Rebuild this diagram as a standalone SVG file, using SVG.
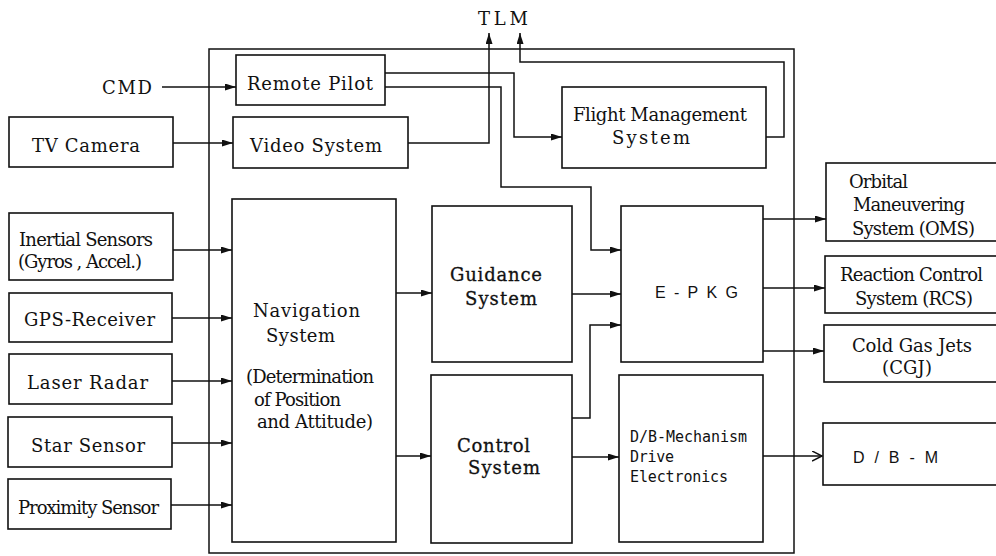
<svg xmlns="http://www.w3.org/2000/svg" width="996" height="556" viewBox="0 0 996 556">
<style>
  .box { fill: #fff; stroke: #111; stroke-width: 1.6; }
  .frame { fill: none; stroke: #111; stroke-width: 1.5; }
  .conn { fill: none; stroke: #111; stroke-width: 1.5; marker-end: url(#arrow); }
  .conn-open { fill: none; stroke: #111; stroke-width: 1.5; marker-end: url(#arrowOpen); }
  text { font-family: "DejaVu Serif", "Liberation Serif", serif; fill: #111; font-size: 18px; }
  .heavy { stroke: #111; stroke-width: 0.3; }
  .sans { font-family: "Liberation Sans", "DejaVu Sans", sans-serif; font-size: 16px; }
  .mono { font-family: "DejaVu Sans Mono", "Liberation Mono", monospace; font-size: 15px; }
</style>
<defs>
  <marker id="arrow" markerUnits="userSpaceOnUse" markerWidth="12" markerHeight="8" refX="11" refY="3.5" orient="auto">
    <path d="M0,0 L11,3.5 L0,7 z" fill="#111"/>
  </marker>
  <marker id="arrowOpen" markerUnits="userSpaceOnUse" markerWidth="12" markerHeight="12" refX="10" refY="5" orient="auto">
    <path d="M0,0 L10,5 L0,10" fill="none" stroke="#111" stroke-width="1.5"/>
  </marker>
</defs>
<rect width="996" height="556" fill="#fff"/>

<!-- outer system frame -->
<rect id="onboard-frame" class="frame" x="209" y="49" width="585" height="504"/>

<!-- free labels -->
<text id="label-tlm" x="478" y="25" textLength="50" lengthAdjust="spacing">TLM</text>
<text id="label-cmd" x="102" y="94" font-size="19" textLength="50" lengthAdjust="spacing">CMD</text>

<g id="connectors">
  <path class="conn" d="M162,87 H236"/>
  <path class="conn" d="M173,143 H233"/>
  <path class="conn" d="M408,143 H489 V33"/>
  <path class="conn" d="M385,73 H514 V137 H562"/>
  <path class="conn" d="M385,87 H501 V187 H591 V250 H621"/>
  <path class="conn" d="M766,137 H784 V62 H520 V33"/>
  <path class="conn" d="M173,250 H232"/>
  <path class="conn" d="M172,318 H232"/>
  <path class="conn" d="M172,381 H232"/>
  <path class="conn" d="M172,443 H232"/>
  <path class="conn" d="M171,505 H232"/>
  <path class="conn" d="M396,293 H432"/>
  <path class="conn" d="M396,456 H431"/>
  <path class="conn" d="M572,294 H621"/>
  <path class="conn" d="M572,418 H590 V325 H621"/>
  <path class="conn" d="M572,457 H619"/>
  <path class="conn" d="M763,219 H826"/>
  <path class="conn" d="M763,288 H825"/>
  <path class="conn" d="M763,351 H824"/>
  <path class="conn-open" d="M763,456 H822"/>
</g>

<g id="remote-pilot">
  <rect class="box" x="236" y="55" width="149" height="50"/>
  <text x="247" y="90" font-size="19" textLength="126" lengthAdjust="spacing">Remote Pilot</text>
</g>
<g id="video-system">
  <rect class="box" x="233" y="117" width="175" height="51"/>
  <text x="250" y="152" font-size="19" textLength="132" lengthAdjust="spacing">Video System</text>
</g>
<g id="tv-camera">
  <rect class="box" x="9" y="117" width="164" height="50"/>
  <text x="32" y="152" font-size="19" textLength="108" lengthAdjust="spacing">TV Camera</text>
</g>
<g id="flight-management">
  <rect class="box" x="562" y="87" width="204" height="81"/>
  <text x="573" y="121" font-size="17" textLength="174" lengthAdjust="spacing">Flight Management</text>
  <text x="612" y="144" font-size="17" textLength="78" lengthAdjust="spacing">System</text>
</g>

<g id="inertial-sensors">
  <rect class="box" x="9" y="213" width="164" height="67"/>
  <text x="19" y="246" font-size="16" textLength="134" lengthAdjust="spacing">Inertial Sensors</text>
  <text x="18" y="268" font-size="16" textLength="124" lengthAdjust="spacing">(Gyros , Accel.)</text>
</g>
<g id="gps-receiver">
  <rect class="box" x="9" y="293" width="163" height="49"/>
  <text x="24" y="326" font-size="18" textLength="131" lengthAdjust="spacing">GPS-Receiver</text>
</g>
<g id="laser-radar">
  <rect class="box" x="9" y="354" width="163" height="50"/>
  <text x="27" y="389" font-size="19" textLength="121" lengthAdjust="spacing">Laser Radar</text>
</g>
<g id="star-sensor">
  <rect class="box" x="8" y="417" width="164" height="50"/>
  <text x="31" y="452" font-size="18" textLength="114" lengthAdjust="spacing">Star Sensor</text>
</g>
<g id="proximity-sensor">
  <rect class="box" x="8" y="479" width="163" height="50"/>
  <text x="18" y="514" font-size="16" textLength="141" lengthAdjust="spacing">Proximity Sensor</text>
</g>

<g id="navigation-system">
  <rect class="box" x="232" y="199" width="164" height="343"/>
  <text x="253" y="317" textLength="107" lengthAdjust="spacing">Navigation</text>
  <text x="266" y="342" textLength="69" lengthAdjust="spacing">System</text>
  <text x="246" y="383" font-size="17" textLength="128" lengthAdjust="spacing">(Determination</text>
  <text x="254" y="406" font-size="17" textLength="87" lengthAdjust="spacing">of Position</text>
  <text x="257" y="428" font-size="17" textLength="116" lengthAdjust="spacing">and Attitude)</text>
</g>

<g id="guidance-system">
  <rect class="box" x="432" y="206" width="140" height="156"/>
  <text class="heavy" x="450" y="281" font-size="19" textLength="92" lengthAdjust="spacing">Guidance</text>
  <text class="heavy" x="465" y="305" font-size="19" textLength="72" lengthAdjust="spacing">System</text>
</g>
<g id="control-system">
  <rect class="box" x="431" y="375" width="141" height="168"/>
  <text class="heavy" x="457" y="452" font-size="19" textLength="73" lengthAdjust="spacing">Control</text>
  <text class="heavy" x="468" y="474" font-size="19" textLength="72" lengthAdjust="spacing">System</text>
</g>

<g id="e-pkg">
  <rect class="box" x="621" y="206" width="142" height="156"/>
  <text class="sans" x="655" y="298" textLength="83" lengthAdjust="spacing">E-PKG</text>
</g>
<g id="db-drive-electronics">
  <rect class="box" x="619" y="375" width="144" height="167"/>
  <text class="mono" x="630" y="442" textLength="117" lengthAdjust="spacing">D/B-Mechanism</text>
  <text class="mono" x="630" y="462" textLength="44" lengthAdjust="spacing">Drive</text>
  <text class="mono" x="630" y="482" textLength="98" lengthAdjust="spacing">Electronics</text>
</g>

<g id="oms">
  <rect class="box" x="826" y="163" width="180" height="78"/>
  <text x="849" y="188" font-size="17" textLength="59" lengthAdjust="spacing">Orbital</text>
  <text x="853" y="211" font-size="17" textLength="112" lengthAdjust="spacing">Maneuvering</text>
  <text x="852" y="235" font-size="17" textLength="123" lengthAdjust="spacing">System (OMS)</text>
</g>
<g id="rcs">
  <rect class="box" x="825" y="256" width="181" height="57"/>
  <text x="840" y="281" font-size="17" textLength="143" lengthAdjust="spacing">Reaction Control</text>
  <text x="855" y="305" font-size="17" textLength="118" lengthAdjust="spacing">System (RCS)</text>
</g>
<g id="cgj">
  <rect class="box" x="824" y="325" width="182" height="57"/>
  <text x="852" y="352" font-size="17" textLength="120" lengthAdjust="spacing">Cold Gas Jets</text>
  <text x="882" y="374" font-size="17" textLength="50" lengthAdjust="spacing">(CGJ)</text>
</g>
<g id="db-m">
  <rect class="box" x="823" y="423" width="183" height="62"/>
  <text class="sans" x="853" y="463" textLength="85" lengthAdjust="spacing">D/B-M</text>
</g>
</svg>
